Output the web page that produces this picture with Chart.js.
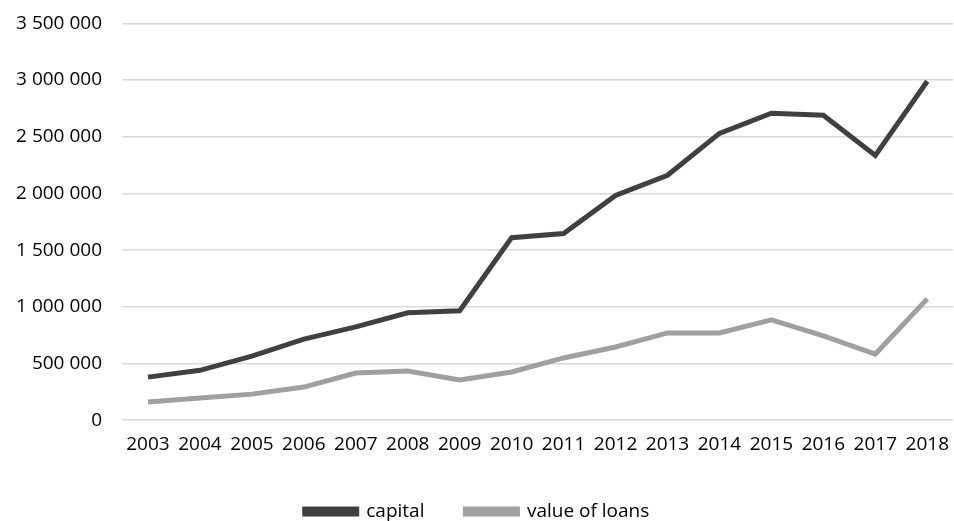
<!DOCTYPE html>
<html>
<head>
<meta charset="utf-8">
<script src="https://cdn.jsdelivr.net/npm/chart.js@4/dist/chart.umd.min.js"></script>
<style>
html,body{margin:0;padding:0;background:#fff;overflow:hidden;}
#wrap{width:954px;height:539px;margin-top:-8px;}
</style>
</head>
<body>
<div id="wrap"><canvas id="chart"></canvas></div>
<script>
const years=["2003","2004","2005","2006","2007","2008","2009","2010","2011","2012","2013","2014","2015","2016","2017","2018"];
const capital=[380000,440000,565000,715000,823000,947000,965000,1610000,1646000,1982000,2160000,2530000,2708000,2690000,2336000,2990000];
const loans=[160000,195000,230000,292000,416000,434000,354000,425000,549000,646000,770000,770000,885000,743000,584000,1070000];

const fmt=v=>String(v).replace(/\B(?=(\d{3})+(?!\d))/g," ");

Chart.defaults.font.family="'Open Sans', sans-serif";
Chart.defaults.color="#000";

new Chart(document.getElementById("chart"),{
type:"line",
data:{
labels:years,
datasets:[
{label:"capital",data:capital,borderColor:"#404040",backgroundColor:"#404040",borderWidth:5,pointRadius:0,tension:0},
{label:"value of loans",data:loans,borderColor:"#a0a0a0",backgroundColor:"#a0a0a0",borderWidth:5,pointRadius:0,tension:0}
]
},
options:{
responsive:true,
maintainAspectRatio:false,
animation:false,
layout:{padding:{left:0,right:0,top:0,bottom:0}},
plugins:{
legend:{
position:"bottom",
labels:{boxWidth:52,boxHeight:5,font:{size:19},padding:41,color:"#000"}
},
tooltip:{enabled:false}
},
scales:{
x:{
offset:true,
grid:{display:false},
border:{display:false},
ticks:{font:{size:19},padding:5,maxRotation:0}
},
y:{
min:0,max:3500000,
border:{display:false},
grid:{color:"#d9d9d9",lineWidth:1.5,drawTicks:false},
ticks:{stepSize:500000,font:{size:19},padding:20,callback:v=>fmt(v)},
afterFit:s=>{s.width=122;}
}
}
}
});
</script>
</body>
</html>
